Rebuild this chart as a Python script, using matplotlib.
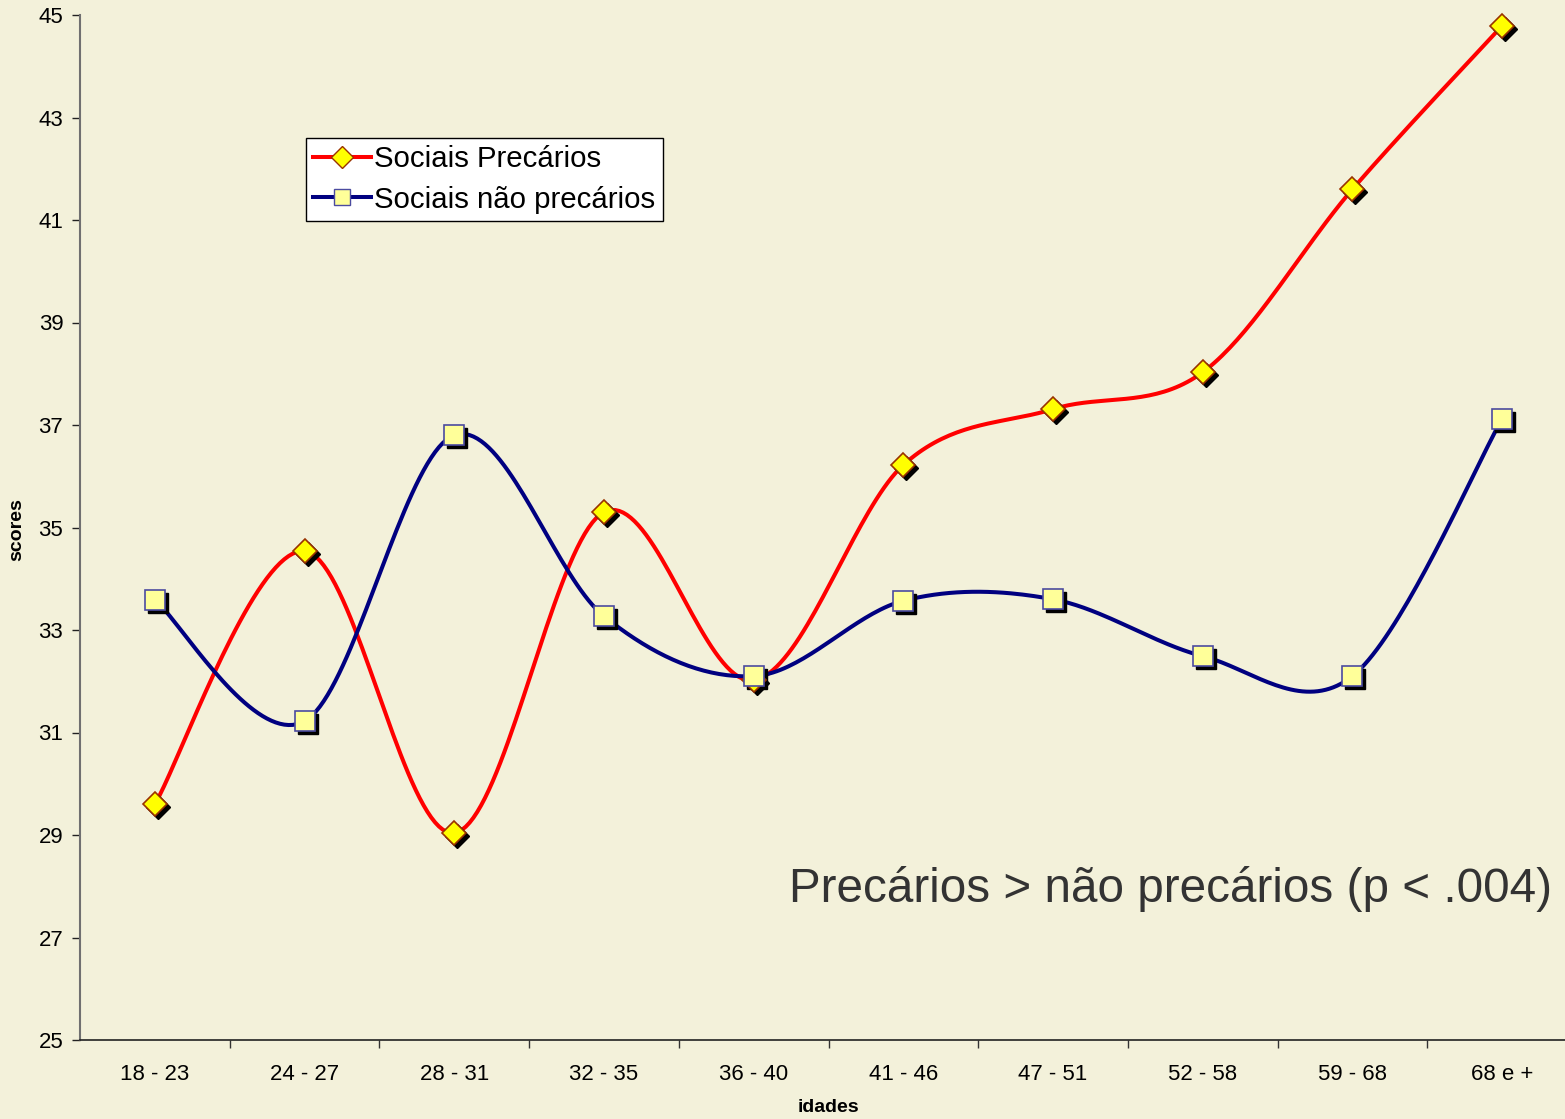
import numpy as np
import matplotlib
matplotlib.use("Agg")
import matplotlib.pyplot as plt
import matplotlib.transforms as mtransforms
from matplotlib.lines import Line2D

categories = ["18 - 23", "24 - 27", "28 - 31", "32 - 35", "36 - 40",
              "41 - 46", "47 - 51", "52 - 58", "59 - 68", "68 e +"]
precarios = [29.6, 34.54, 29.04, 35.3, 32.02, 36.22, 37.31, 38.03, 41.6, 44.79]
nao_precarios = [33.59, 31.22, 36.8, 33.27, 32.1, 33.57, 33.6, 32.49, 32.1, 37.12]
yticks = list(range(25, 46, 2))

plt.rcParams['font.family'] = ['Liberation Sans', 'DejaVu Sans']

BG = "#F3F1DA"


def smooth(x, y, n=40):
    # Excel-like smoothing (Catmull-Rom via cubic Bezier, tension 1/6)
    x = np.asarray(x, float)
    y = np.asarray(y, float)
    px = np.concatenate([[x[0]], x, [x[-1]]])
    py = np.concatenate([[y[0]], y, [y[-1]]])
    xs, ys = [], []
    t = np.linspace(0, 1, n)
    for i in range(1, len(px) - 2):
        p0 = np.array([px[i], py[i]])
        p3 = np.array([px[i + 1], py[i + 1]])
        p1 = p0 + (np.array([px[i + 1], py[i + 1]]) - np.array([px[i - 1], py[i - 1]])) / 6
        p2 = p3 - (np.array([px[i + 2], py[i + 2]]) - np.array([px[i], py[i]])) / 6
        b = ((1 - t) ** 3)[:, None] * p0 + (3 * (1 - t) ** 2 * t)[:, None] * p1 \
            + (3 * (1 - t) * t ** 2)[:, None] * p2 + (t ** 3)[:, None] * p3
        xs.extend(b[:, 0])
        ys.extend(b[:, 1])
    return np.array(xs), np.array(ys)


fig = plt.figure(figsize=(15.65, 11.19), dpi=100, facecolor=BG)
ax = fig.add_axes([80 / 1565, 79 / 1119, 1497 / 1565, 1025 / 1119])
ax.set_facecolor(BG)

x = np.arange(len(categories))

shadow = mtransforms.offset_copy(ax.transData, fig=fig, x=3, y=-3, units='dots')

sx, sy = smooth(x, precarios)
ax.plot(sx, sy, color="#FF0000", lw=2.9, zorder=3, solid_capstyle='round')
sx, sy = smooth(x, nao_precarios)
ax.plot(sx, sy, color="#000080", lw=2.9, zorder=3, solid_capstyle='round')

# marker shadows
ax.plot(x, precarios, ls='none', marker='D', ms=12, mfc='black', mec='black',
        transform=shadow, zorder=4, clip_on=False)
ax.plot(x, nao_precarios, ls='none', marker='s', ms=14.5, mfc='black', mec='black',
        transform=shadow, zorder=4, clip_on=False)
# markers
ax.plot(x, precarios, ls='none', marker='D', ms=12, mfc='#FFFF00', mec='#993300',
        mew=1.2, zorder=5, clip_on=False)
ax.plot(x, nao_precarios, ls='none', marker='s', ms=14.5, mfc='#FFFF99', mec='#4B4BA0',
        mew=1.2, zorder=5, clip_on=False)

ax.set_xlim(-0.5, len(categories) - 0.5)
ax.set_ylim(25, 45)
ax.set_yticks(yticks)
ax.set_yticklabels([str(v) for v in yticks], fontsize=16)
ax.set_xticks(x)
ax.set_xticklabels(categories, fontsize=16)
ax.set_xticks(np.arange(0.5, len(categories) - 0.5 + 0.01, 1.0), minor=True)
ax.tick_params(axis='x', which='major', length=0, pad=17)
ax.tick_params(axis='x', which='minor', length=6, width=1, direction='out', color='#333333')
ax.tick_params(axis='y', length=6, width=1, direction='out', pad=6, color='#222222')

for s in ['top', 'right']:
    ax.spines[s].set_visible(False)
ax.spines['left'].set_color('#707070')
ax.spines['left'].set_linewidth(1.5)
ax.spines['bottom'].set_color('#222222')
ax.spines['bottom'].set_linewidth(1.2)

fig.text(17 / 1565, 1 - 530 / 1119, "scores", rotation=90, fontsize=14, fontweight='bold',
         ha='center', va='center')
fig.text(828 / 1565, 1 - 1108 / 1119, "idades", fontsize=14, fontweight='bold',
         ha='center', va='center')

fig.text(1552 / 1565, 1 - 889 / 1119, "Precários > não precários (p < .004)",
         fontsize=34.3, color='#333333', ha='right', va='center')

# legend
h1 = Line2D([], [], color="#FF0000", lw=2.9, marker='D', ms=11, mfc='#FFFF00', mec='#993300')
h2 = Line2D([], [], color="#000080", lw=2.9, marker='s', ms=12, mfc='#FFFF99', mec='#4B4BA0')
leg = fig.legend([h1, h2], ["Sociais Precários", "Sociais não precários"],
                 loc='upper left', bbox_to_anchor=(306 / 1565, 1 - 138 / 1119),
                 fontsize=21.2, frameon=True, fancybox=False, edgecolor='black',
                 facecolor='white', framealpha=1, handlelength=1.95, handletextpad=0.12,
                 borderpad=0.25, labelspacing=0.42, borderaxespad=0)
leg.get_frame().set_linewidth(1.0)

fig.savefig("out.png", dpi=100, facecolor=BG)
